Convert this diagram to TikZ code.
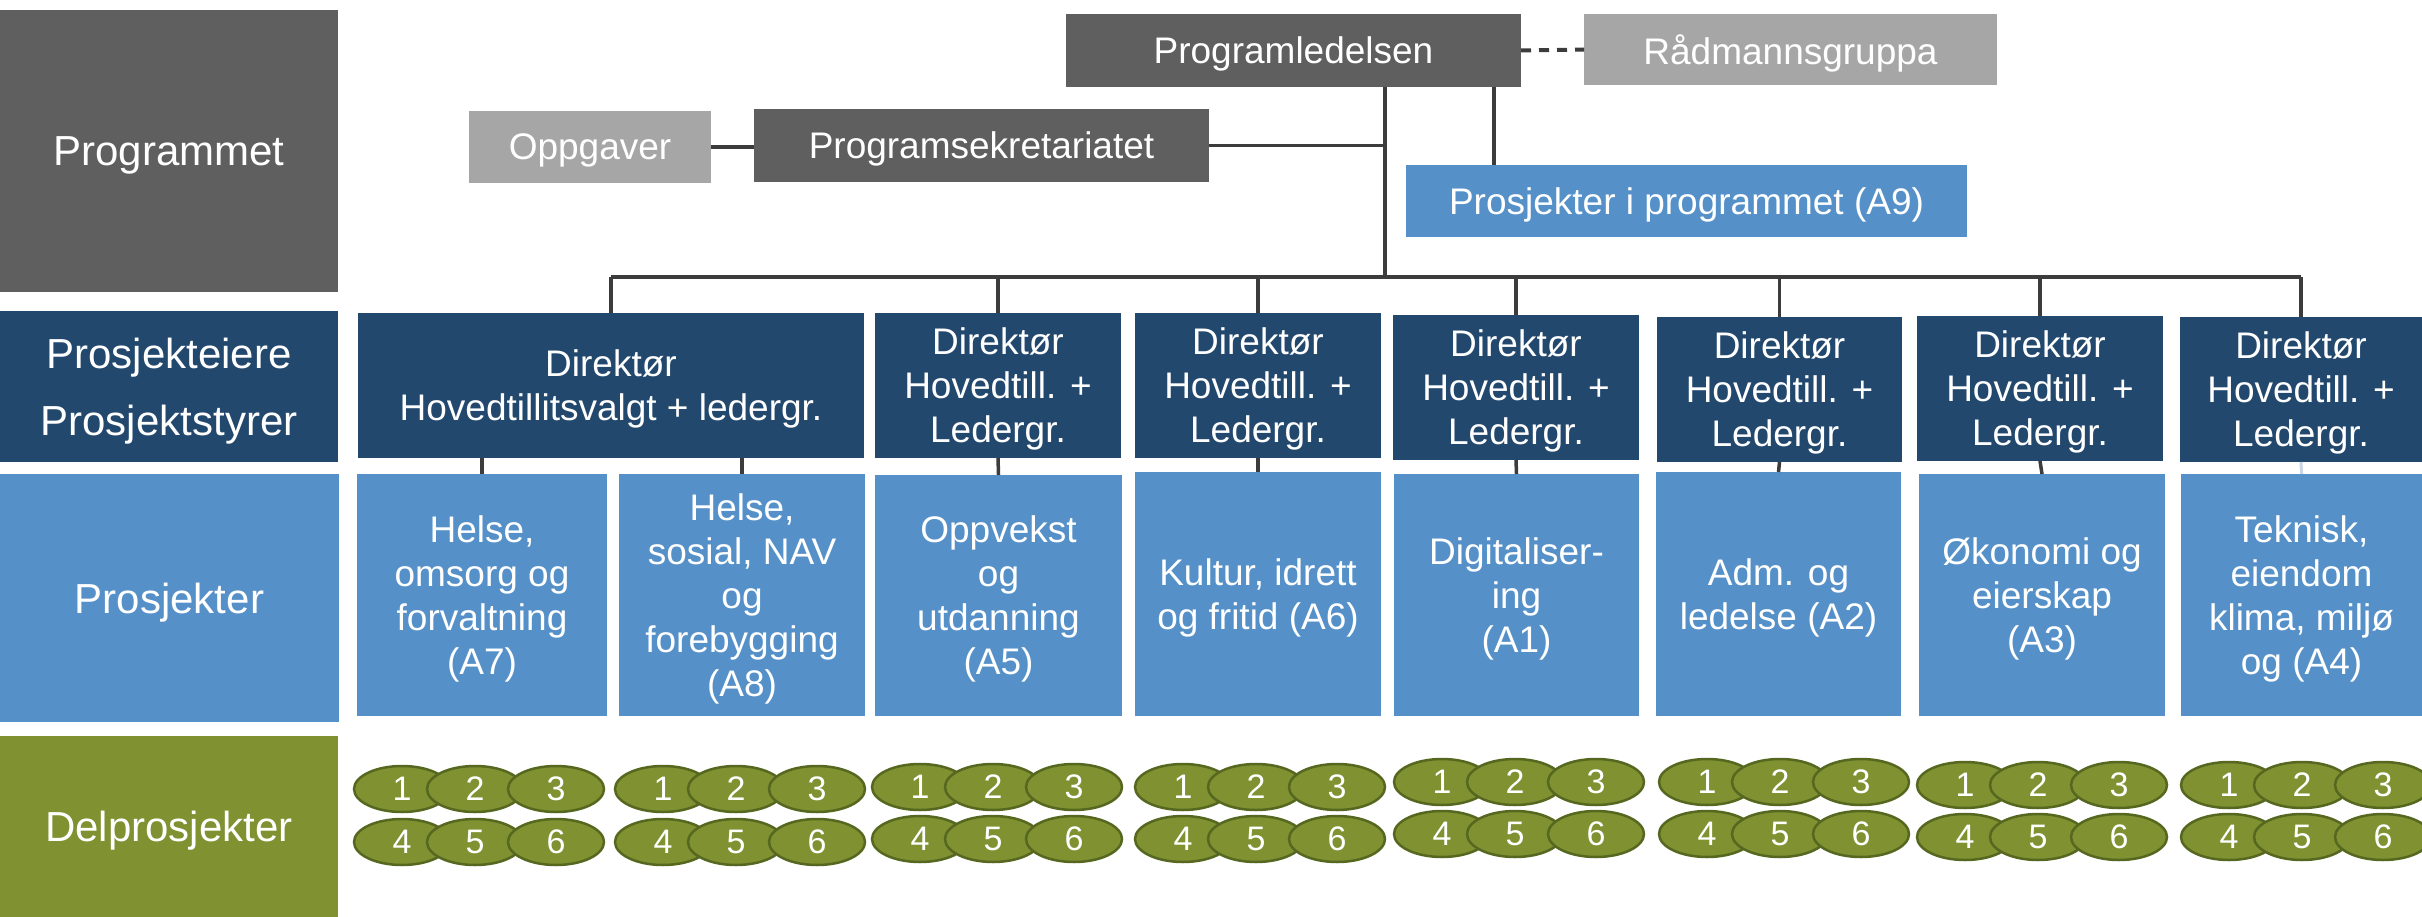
\documentclass[tikz,border=0pt]{standalone}
\usepackage{fontspec}
\setmainfont{Liberation Sans}
\usetikzlibrary{shapes.geometric}
\definecolor{dkgrey}{HTML}{5F5F5F}
\definecolor{ltgrey}{HTML}{A6A6A6}
\definecolor{navy}{HTML}{23486E}
\definecolor{ltblue}{HTML}{5591C8}
\definecolor{olive}{HTML}{7F9131}
\definecolor{oliveb}{HTML}{56681F}
\definecolor{linec}{HTML}{3C3C3C}
\definecolor{faint}{HTML}{C8D6E4}
\begin{document}
\begin{tikzpicture}[x=1pt,y=-1pt,
  box/.style={inner sep=0pt, outer sep=0pt, anchor=north west, text=white, align=center, text depth=0pt, font=\fontsize{37}{44}\selectfont},
  lbl/.style={box, font=\fontsize{42}{67}\selectfont},
  dk/.style={box, fill=dkgrey},
  lg/.style={box, fill=ltgrey},
  nv/.style={box, fill=navy},
  lb/.style={box, fill=ltblue},
  ell/.style={ellipse, draw=oliveb, line width=2.5pt, fill=olive, minimum width=96pt, minimum height=46pt, inner sep=0pt, text=white, font=\fontsize{34}{34}\selectfont},
  conn/.style={draw=linec, line width=3.5pt},
  faintconn/.style={draw=faint, line width=3pt}]
\useasboundingbox (0,0) rectangle (2422,917);

% left column labels
\node[lbl, fill=dkgrey, minimum width=338pt, minimum height=282pt] (lprog) at (0,10) {Programmet};
\node[lbl, fill=navy, minimum width=338pt, minimum height=151pt] (leier) at (0,311) {Prosjekteiere\\Prosjektstyrer};
\node[lbl, fill=ltblue, minimum width=339pt, minimum height=248pt] (lproj) at (0,474) {Prosjekter};
\node[lbl, fill=olive, minimum width=338pt, minimum height=181pt] (ldel) at (0,736) {Delprosjekter};

% top part
\node[dk, minimum width=455pt, minimum height=73pt] (pl) at (1066,14) {Programledelsen};
\node[lg, minimum width=413pt, minimum height=71pt] (rad) at (1584,14) {Rådmannsgruppa};
\node[lg, minimum width=242pt, minimum height=72pt] (opp) at (469,111) {Oppgaver};
\node[dk, minimum width=455pt, minimum height=73pt] (ps) at (754,109) {Programsekretariatet};
\node[lb, minimum width=561pt, minimum height=72pt] (a9) at (1406,165) {Prosjekter i programmet (A9)};

% director boxes
\node[nv, minimum width=506pt, minimum height=145pt] (d1) at (358,313) {Direktør\\Hovedtillitsvalgt + ledergr.};
\node[nv, minimum width=246pt, minimum height=145pt] (d2) at (875,313) {Direktør\\Hovedtill. +\\Ledergr.};
\node[nv, minimum width=246pt, minimum height=145pt] (d3) at (1135,313) {Direktør\\Hovedtill. +\\Ledergr.};
\node[nv, minimum width=246pt, minimum height=145pt] (d4) at (1393,315) {Direktør\\Hovedtill. +\\Ledergr.};
\node[nv, minimum width=245pt, minimum height=145pt] (d5) at (1657,317) {Direktør\\Hovedtill. +\\Ledergr.};
\node[nv, minimum width=246pt, minimum height=145pt] (d6) at (1917,316) {Direktør\\Hovedtill. +\\Ledergr.};
\node[nv, minimum width=242pt, minimum height=145pt] (d7) at (2180,317) {Direktør\\Hovedtill. +\\Ledergr.};

% project boxes
\node[lb, minimum width=250pt, minimum height=242pt] (p1) at (357,474) {Helse,\\omsorg og\\forvaltning\\(A7)};
\node[lb, minimum width=246pt, minimum height=242pt] (p2) at (619,474) {Helse,\\sosial, NAV\\og\\forebygging\\(A8)};
\node[lb, minimum width=247pt, minimum height=241pt] (p3) at (875,475) {Oppvekst\\og\\utdanning\\(A5)};
\node[lb, minimum width=246pt, minimum height=244pt] (p4) at (1135,472) {Kultur, idrett\\og fritid (A6)};
\node[lb, minimum width=245pt, minimum height=242pt] (p5) at (1394,474) {Digitaliser-\\ing\\(A1)};
\node[lb, minimum width=245pt, minimum height=244pt] (p6) at (1656,472) {Adm. og\\ledelse (A2)};
\node[lb, minimum width=246pt, minimum height=242pt] (p7) at (1919,474) {Økonomi og\\eierskap\\(A3)};
\node[lb, minimum width=241pt, minimum height=242pt] (p8) at (2181,474) {Teknisk,\\eiendom\\klima, miljø\\og (A4)};

% sub-project ellipses
\foreach \g/\x/\ya/\yb in {1/402/789/842, 2/663/789/842, 3/920/787/839, 4/1183/787/839, 5/1442/782/834, 6/1707/782/834, 7/1965/785/837, 8/2229/785/837} {
  \node[ell] (e\g a) at (\x,\ya) {1};
  \node[ell] (e\g b) at (\x+73,\ya) {2};
  \node[ell] (e\g c) at (\x+154,\ya) {3};
  \node[ell] (e\g d) at (\x,\yb) {4};
  \node[ell] (e\g e) at (\x+73,\yb) {5};
  \node[ell] (e\g f) at (\x+154,\yb) {6};
}

% connectors
\coordinate (bus) at (1385,277);
\coordinate (a9top) at (1494,165);
\draw[conn, dash pattern=on 10pt off 8pt, line width=4pt] (pl.east) -- (rad.west);
\draw[conn, line width=4pt] (opp.east) -- (ps.west |- opp.east);
\draw[conn] (ps.east) -- (ps.east -| bus);
\draw[conn] (pl.south -| bus) -- (bus);
\draw[conn] (pl.south -| a9top) -- (a9top);
\draw[conn, line width=4pt] (d1.north |- bus) -- (d7.north |- bus);
\foreach \d in {d1,d2,d3,d4,d5,d6,d7} {
  \draw[conn] (\d.north |- bus) -- (\d.north);
}
\draw[conn] (p1.north) -- (p1.north |- d1.south);
\draw[conn] (p2.north) -- (p2.north |- d1.south);
\draw[conn] (p3.north) -- (d2.south);
\draw[conn] (p4.north) -- (d3.south);
\draw[conn] (p5.north) -- (d4.south);
\draw[conn] (p6.north) -- (d5.south);
\draw[conn] (p7.north) -- (d6.south);
\draw[faintconn] (p8.north) -- (d7.south);
\end{tikzpicture}
\end{document}
